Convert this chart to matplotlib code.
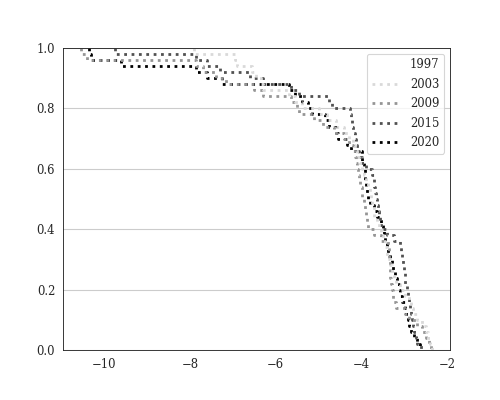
import numpy as np
import pandas as pd
import matplotlib
matplotlib.use("Agg")
import matplotlib.pyplot as plt
import seaborn as sns

years = ["1997", "2003", "2009", "2015", "2020"]

v1997 = [-10.0, -9.6, -9.3, -9.0, -8.8, -8.6, -8.4, -8.2, -8.0, -7.9, -7.8, -7.7, -7.6, -7.5,
         -7.4, -7.3, -7.2, -7.1, -7.0, -6.9, -6.8, -6.7, -6.6, -6.5, -6.4, -6.3, -6.2, -6.1,
         -6.0, -5.9, -5.8, -5.7, -5.6, -5.5, -5.4, -5.3, -5.2, -5.1, -5.0, -4.9]

v2003 = [-7.9, -6.95, -6.9, -6.55, -6.45, -6.35, -6.3, -5.7, -5.55, -5.4,
         -5.0, -4.8, -4.6, -4.4, -4.3, -4.2, -4.15, -4.1, -4.05, -4.0,
         -3.95, -3.9, -3.85, -3.8, -3.78, -3.75, -3.72, -3.7, -3.65, -3.6,
         -3.55, -3.5, -3.45, -3.42, -3.4, -3.35, -3.3, -3.25, -3.2, -3.1,
         -3.0, -2.9, -2.85, -2.8, -2.7, -2.6, -2.5, -2.45, -2.4, -2.35]

v2009 = [-10.55, -10.4, -7.85, -7.7, -7.4, -7.15, -6.5, -6.3, -5.65, -5.5,
         -5.45, -5.1, -4.9, -4.65, -4.4, -4.3, -4.2, -4.15, -4.12, -4.1,
         -4.08, -4.05, -4.03, -4.0, -3.98, -3.95, -3.92, -3.9, -3.88, -3.85,
         -3.72, -3.55, -3.38, -3.37, -3.36, -3.35, -3.34, -3.33, -3.32, -3.3,
         -3.28, -3.26, -3.2, -3.0, -2.9, -2.7, -2.6, -2.5, -2.42, -2.38]

v2015 = [-9.75, -7.85, -7.6, -7.3, -6.6, -6.3, -5.65, -5.45, -4.75, -4.7,
         -4.28, -4.25, -4.22, -4.2, -4.15, -4.12, -4.1, -4.05, -3.98, -3.9,
         -3.75, -3.72, -3.7, -3.68, -3.66, -3.64, -3.62, -3.6, -3.58, -3.55,
         -3.4, -3.25, -3.1, -3.08, -3.06, -3.04, -3.02, -3.0, -2.98, -2.95,
         -2.93, -2.9, -2.88, -2.85, -2.82, -2.8, -2.77, -2.73, -2.7, -2.62]

v2020 = [-10.35, -10.3, -9.6, -7.85, -7.6, -7.25, -5.7, -5.55, -5.4, -5.25,
         -5.15, -4.85, -4.75, -4.6, -4.55, -4.35, -4.25, -4.0, -3.98, -3.95,
         -3.93, -3.92, -3.9, -3.88, -3.85, -3.8, -3.72, -3.65, -3.55, -3.5,
         -3.48, -3.45, -3.42, -3.38, -3.35, -3.3, -3.27, -3.22, -3.18, -3.12,
         -3.1, -3.05, -3.0, -2.97, -2.93, -2.9, -2.85, -2.78, -2.72, -2.65]

series = [v1997, v2003, v2009, v2015, v2020]
df = pd.DataFrame({
    "value": np.concatenate([np.asarray(s, float) for s in series]),
    "year": np.concatenate([[y] * len(s) for y, s in zip(years, series)]),
})

sns.set_style("white")
plt.rcParams["font.family"] = ["DejaVu Serif"]
plt.rcParams["font.size"] = 10.5

colors = [plt.cm.Greys(i / 4) for i in range(5)]

fig, ax = plt.subplots(figsize=(6.25, 5), dpi=80)
fig.subplots_adjust(left=0.126, right=0.9, top=0.88, bottom=0.125)
sns.ecdfplot(data=df, x="value", hue="year", hue_order=years, palette=colors,
             complementary=True, linestyle=":", linewidth=2.5, ax=ax)
# keep the white (1997) line underneath the grid and other lines
for ln in ax.get_lines():
    if matplotlib.colors.to_hex(ln.get_color()) == "#ffffff":
        ln.set_zorder(0.1)
ax.yaxis.grid(True, color="#cccccc", linewidth=1)
ax.set_axisbelow(True)
ax.set_xlabel("")
ax.set_ylabel("")
ax.tick_params(axis="both", labelsize=10.5)
for s in ax.spines.values():
    s.set_color("#262626")
sns.move_legend(ax, "upper right", title=None, labelspacing=0.55,
                handlelength=2.5, fontsize=10.5)

fig.savefig("out.png", dpi=80)
